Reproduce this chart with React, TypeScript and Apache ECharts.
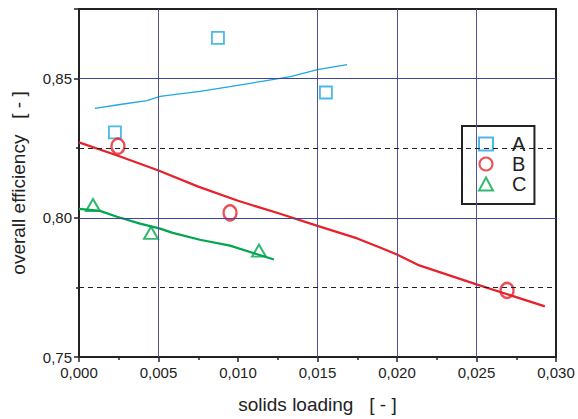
import React, { useEffect, useRef } from "react";
import * as echarts from "echarts";

// Measured points
const aX = [0.00226, 0.00874, 0.01553];
const aY = [0.8307, 0.8646, 0.845];
const bX = [0.00245, 0.0095, 0.02692];
const bY = [0.8257, 0.8018, 0.7739];
const cX = [0.00088, 0.00453, 0.01132];
const cY = [0.8046, 0.7946, 0.7882];

// Fitted curves
const aLineX = [0.001, 0.00258, 0.00428, 0.0051, 0.0076, 0.0095, 0.0114, 0.0133, 0.015, 0.01686];
const aLineY = [0.8393, 0.8407, 0.8421, 0.8436, 0.8454, 0.8471, 0.8489, 0.8507, 0.8532, 0.855];
const bLineX = [0.0, 0.0025, 0.005, 0.0075, 0.01, 0.0125, 0.015, 0.0175, 0.01893, 0.02, 0.0214, 0.025, 0.0293];
const bLineY = [0.8271, 0.8222, 0.817, 0.8112, 0.8061, 0.8017, 0.7971, 0.7926, 0.7893, 0.7868, 0.7829, 0.7761, 0.7682];
const cLineX = [0.0, 0.00132, 0.00239, 0.00384, 0.0051, 0.0059, 0.0076, 0.0095, 0.0111, 0.01226];
const cLineY = [0.8032, 0.8025, 0.8004, 0.7979, 0.7961, 0.7946, 0.7921, 0.79, 0.7871, 0.785];

const xGrid = [0.005, 0.015, 0.02, 0.025];
const yGrid = [0.8, 0.85];
const yDashed = [0.775, 0.825];

const COLOR_A = "#1ea7e1";
const COLOR_B = "#e8202a";
const COLOR_C = "#00a64f";
const GRID_H = "#3d45a0";
const GRID_V = "#52529a";

const zip = (xs: number[], ys: number[]) => xs.map((x, i) => [x, ys[i]]);

export default function App() {
  const ref = useRef<HTMLDivElement>(null);
  useEffect(() => {
    if (!ref.current) return;
    const chart = echarts.init(ref.current, undefined, { renderer: "svg" });
    const font = "Liberation Sans, Arial, sans-serif";
    chart.setOption({
      animation: false,
      backgroundColor: "#fff",
      grid: {
        left: 79,
        right: 22,
        top: 9,
        bottom: 59,
        show: true,
        borderColor: "#222",
        borderWidth: 2,
        backgroundColor: "transparent",
      },
      legend: {
        data: ["A", "B", "C"],
        orient: "vertical",
        left: 462,
        top: 126,
        itemWidth: 14,
        itemHeight: 13,
        itemGap: 0,
        padding: [8, 8, 10, 16],
        backgroundColor: "#fff",
        borderColor: "#222",
        borderWidth: 2,
        borderRadius: 0,
        textStyle: { fontSize: 20, color: "#222", fontFamily: font, padding: [0, 0, 0, 14], lineHeight: 20 },
      },
      xAxis: {
        type: "value",
        min: 0,
        max: 0.03,
        interval: 0.005,
        name: "solids loading   [ - ]",
        nameLocation: "middle",
        nameGap: 38,
        nameTextStyle: { fontSize: 19, color: "#222", fontFamily: font },
        axisLine: { show: true, onZero: false, lineStyle: { color: "#222", width: 2 } },
        axisTick: { show: true, length: 5, lineStyle: { color: "#222", width: 1.5 } },
        minorTick: { show: true, splitNumber: 2, length: 3, lineStyle: { color: "#222", width: 1.5 } },
        splitLine: { show: false },
        axisLabel: {
          fontSize: 15,
          color: "#222",
          fontFamily: font,
          margin: 8,
          formatter: (v: number) => v.toFixed(3).replace(".", ","),
        },
      },
      yAxis: {
        type: "value",
        min: 0.75,
        max: 0.875,
        interval: 0.05,
        name: "overall efficiency   [ - ]",
        nameLocation: "middle",
        nameGap: 51,
        nameRotate: 90,
        nameTextStyle: { fontSize: 19, color: "#222", fontFamily: font },
        axisLine: { show: true, onZero: false, lineStyle: { color: "#222", width: 2 } },
        axisTick: { show: true, length: 5, lineStyle: { color: "#222", width: 1.5 } },
        minorTick: { show: true, splitNumber: 2, length: 3, lineStyle: { color: "#222", width: 1.5 } },
        splitLine: { show: false },
        axisLabel: {
          fontSize: 15,
          color: "#222",
          fontFamily: font,
          margin: 7,
          showMaxLabel: false,
          formatter: (v: number) => (Math.abs(v - 0.875) < 1e-6 ? "" : v.toFixed(2).replace(".", ",")),
        },
      },
      series: [
        {
          type: "line",
          name: "grid",
          data: [],
          silent: true,
          z: 1,
          markLine: {
            silent: true,
            symbol: "none",
            precision: 5,
            label: { show: false },
            animation: false,
            data: [
              ...xGrid.map((v) => ({ xAxis: v, lineStyle: { color: GRID_V, width: 1, type: "solid" } })),
              ...yGrid.map((v) => ({ yAxis: v, lineStyle: { color: GRID_H, width: 1, type: "solid" } })),
              ...yDashed.map((v) => ({ yAxis: v, lineStyle: { color: "#222", width: 1, type: [5, 4] } })),
            ],
          },
        },
        {
          type: "line",
          name: "A fit",
          data: zip(aLineX, aLineY),
          showSymbol: false,
          symbol: "none",
          lineStyle: { color: COLOR_A, width: 1.3 },
          z: 2,
        },
        {
          type: "line",
          name: "B fit",
          data: zip(bLineX, bLineY),
          showSymbol: false,
          symbol: "none",
          lineStyle: { color: COLOR_B, width: 2.2 },
          z: 2,
        },
        {
          type: "line",
          name: "C fit",
          data: zip(cLineX, cLineY),
          showSymbol: false,
          symbol: "none",
          lineStyle: { color: COLOR_C, width: 2.2 },
          z: 2,
        },
        {
          type: "scatter",
          name: "A",
          data: zip(aX, aY),
          symbol: "rect",
          symbolSize: 12,
          itemStyle: { color: "rgba(255,255,255,0)", borderColor: COLOR_A, borderWidth: 1.8 },
          z: 3,
        },
        {
          type: "scatter",
          name: "B",
          data: zip(bX, bY),
          symbol: "circle",
          symbolSize: [13, 15],
          itemStyle: { color: "rgba(255,255,255,0)", borderColor: COLOR_B, borderWidth: 2.4 },
          z: 3,
        },
        {
          type: "scatter",
          name: "C",
          data: zip(cX, cY),
          symbol: "triangle",
          symbolSize: [14, 12],
          itemStyle: { color: "rgba(255,255,255,0)", borderColor: COLOR_C, borderWidth: 2 },
          z: 3,
        },
      ],
    });
    return () => chart.dispose();
  }, []);
  return <div ref={ref} style={{ position: "fixed", left: 0, top: 0, width: 578, height: 419 }} />;
}
